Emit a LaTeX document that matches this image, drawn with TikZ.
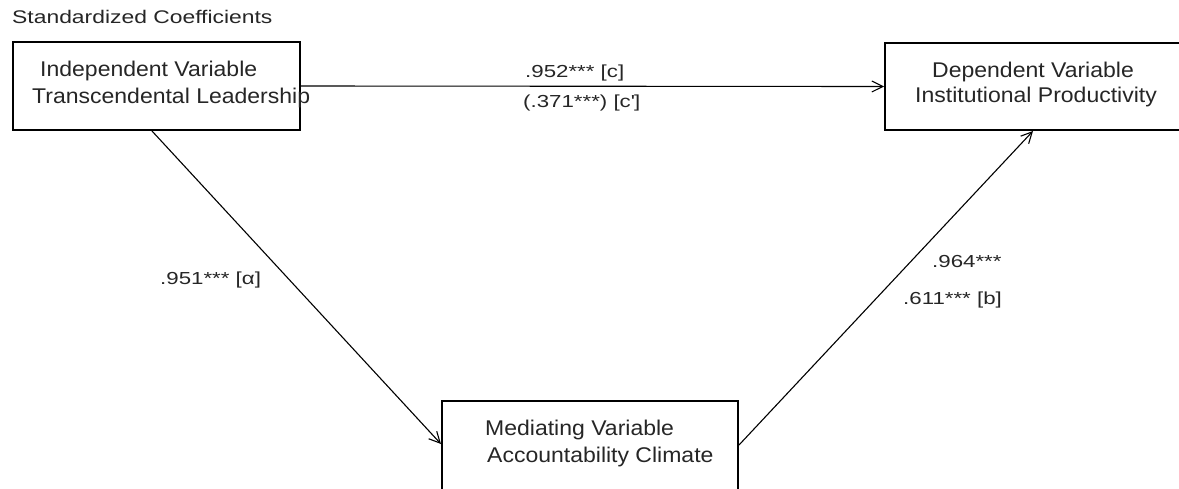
\documentclass[tikz,border=0pt]{standalone}
\usepackage{fontspec}
\setmainfont{Liberation Sans}
\newfontfamily\titlefont[FakeStretch=1.25]{Liberation Sans}
\newfontfamily\boxfont[FakeStretch=1.08]{Liberation Sans}
\newfontfamily\labfont[FakeStretch=1.28]{Liberation Sans}
\usetikzlibrary{arrows.meta}
\begin{document}
\begin{tikzpicture}[x=1pt,y=-1pt,
  box/.style={draw, line width=2pt, rectangle, inner sep=0pt, anchor=north west},
  boxtext/.style={anchor=base west, inner sep=0pt, font=\boxfont\fontsize{21.3}{25}\selectfont, text=black!85},
  labtext/.style={anchor=base west, inner sep=0pt, font=\labfont\fontsize{17.4}{20}\selectfont, text=black!85},
  arr/.style={line width=1.1pt, -{Straight Barb[length=11pt,width=11pt,line width=1.1pt]}}]
\clip (0,0) rectangle (1179,488);
\fill[white] (0,0) rectangle (1179,488);
\node[anchor=base west, inner sep=0pt, font=\titlefont\fontsize{18.3}{20}\selectfont, text=black!85] (title) at (12,23) {Standardized Coefficients};
% boxes
\node[box, minimum width=287pt, minimum height=88pt] (iv) at (12,41) {};
\node[box, minimum width=301pt, minimum height=87pt] (dv) at (884,42) {};
\node[box, minimum width=296pt, minimum height=95pt] (mv) at (441,400) {};
% box texts
\node[boxtext] (iv1) at (40,76) {Independent Variable};
\node[boxtext] (iv2) at (32,103) {Transcendental Leadership};
\node[boxtext] (dv1) at (932,77) {Dependent Variable};
\node[boxtext] (dv2) at (915,102) {Institutional Productivity};
\node[boxtext] (mv1) at (485,435) {Mediating Variable};
\node[boxtext] (mv2) at (487,462) {Accountability Climate};
% connectors
\draw[arr] (iv.east) -- (dv.west);
\draw[arr] ([xshift=140pt]iv.south west) -- ([yshift=-44pt]mv.north west);
\draw[arr] ([yshift=-45pt]mv.north east) -- ([xshift=149pt]dv.south west);
% labels
\node[labtext] (lc) at (525,77) {.952*** [c]};
\node[labtext] (lcp) at (523,107) {(.371***) [c\textquotesingle]};
\node[labtext] (la) at (160,284) {.951*** [α]};
\node[labtext] (lb1) at (932,267) {.964***};
\node[labtext] (lb2) at (903,304) {.611*** [b]};
\end{tikzpicture}
\end{document}
